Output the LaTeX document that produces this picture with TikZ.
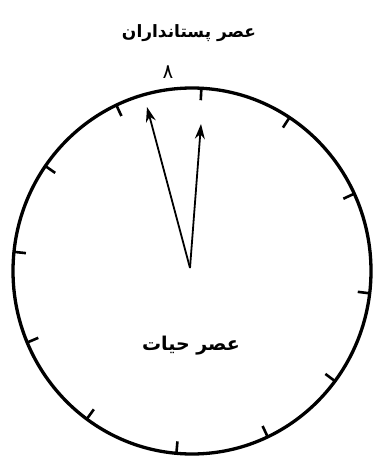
\documentclass[tikz,border=0pt]{standalone}
\usepackage{fontspec}
\newfontfamily\arabicfont[Script=Arabic]{DejaVu Sans}
\TeXXeTstate=1
\usetikzlibrary{arrows.meta,calc}
\begin{document}
\begin{tikzpicture}[x=1pt,y=-1pt,
  rim/.style={line width=3.3pt},
  tick/.style={line width=2.6pt},
  hand/.style={line width=1.8pt,-{Stealth[length=15pt,width=10pt]}},
  lbl/.style={inner sep=0pt}]
\useasboundingbox (0,0) rectangle (374,457);
\clip (0,0) rectangle (374,457);
\coordinate (o) at (192,271);
\draw[rim] (o) ellipse [x radius=179, y radius=183];
\foreach \a in {87,57,25,-7,-37,-65,-95,-126,-157,174,145,115}{
  \draw[tick] ({192+179*cos(\a)},{271-183*sin(\a)}) -- ({192+167*cos(\a)},{271-171*sin(\a)});
}
\coordinate (c) at (190,268);
\coordinate (t1) at (147,107);
\coordinate (t2) at (201,124);
\draw[hand] (c) -- (t1);
\draw[hand] (c) -- (t2);
\node[lbl, font=\arabicfont\bfseries\fontsize{17}{20}\selectfont] (top) at (189,33) {\beginR عصر پستانداران\endR};
\node[lbl, font=\arabicfont\fontsize{20}{22}\selectfont] (eight) at (168,72) {\beginR ۸\endR};
\node[lbl, font=\arabicfont\bfseries\fontsize{19}{22}\selectfont] (life) at (191,346) {\beginR عصر حیات\endR};
\end{tikzpicture}
\end{document}
